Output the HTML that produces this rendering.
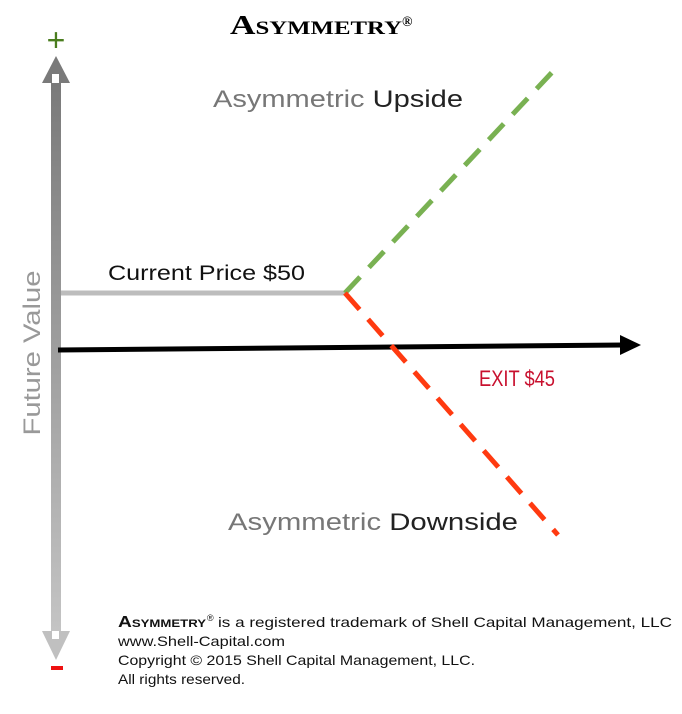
<!DOCTYPE html>
<html><head><style>
body{margin:0;background:#fff;}
svg{display:block;}
text{font-family:"Liberation Sans",sans-serif;}
</style></head><body>
<svg width="682" height="714" viewBox="0 0 682 714">
<defs>
<linearGradient id="g" x1="0" y1="0" x2="0" y2="1">
<stop offset="0" stop-color="#7a7a7a"/><stop offset="1" stop-color="#c4c4c4"/>
</linearGradient>
</defs>
<text x="230" y="34" textLength="172" lengthAdjust="spacingAndGlyphs" style="font-family:'Liberation Serif',serif;font-weight:bold;font-size:27px;font-variant:small-caps">Asymmetry</text>
<text x="402" y="26" font-size="14" style="font-family:'Liberation Serif',serif;font-weight:bold">®</text>
<text x="56" y="51" text-anchor="middle" fill="#4a7d1e" font-size="32">+</text>
<rect x="51" y="666" width="12" height="4" fill="#ee1111"/>
<rect x="51" y="82" width="10" height="550" fill="url(#g)"/>
<polygon points="56,56 42,83 70,83" fill="#7a7a7a"/>
<rect x="52" y="74" width="7" height="9" fill="#fff"/>
<polygon points="56,660 42,631 70,631" fill="#c0c0c0"/>
<rect x="52" y="631" width="7" height="8" fill="#fff"/>
<text transform="translate(40,353) rotate(-90)" text-anchor="middle" fill="#999" font-size="24" textLength="165" lengthAdjust="spacingAndGlyphs">Future Value</text>
<line x1="61" y1="293" x2="345" y2="293" stroke="#bdbdbd" stroke-width="5"/>
<line x1="58" y1="350" x2="624" y2="345" stroke="#000" stroke-width="5"/>
<polygon points="641,345 620,335 620,355" fill="#000"/>
<line x1="345" y1="293" x2="558" y2="66" stroke="#79b152" stroke-width="5" stroke-dasharray="22,13"/>
<line x1="345" y1="293" x2="558" y2="535" stroke="#ff3a10" stroke-width="5" stroke-dasharray="22,13"/>
<text x="213" y="107" font-size="24" fill="#777" textLength="250" lengthAdjust="spacingAndGlyphs">Asymmetric <tspan fill="#222">Upside</tspan></text>
<text x="108" y="280" font-size="21" fill="#111" textLength="197" lengthAdjust="spacingAndGlyphs">Current Price $50</text>
<text x="479" y="386" font-size="22" fill="#c8102e" textLength="76" lengthAdjust="spacingAndGlyphs">EXIT $45</text>
<text x="228" y="530" font-size="24" fill="#777" textLength="290" lengthAdjust="spacingAndGlyphs">Asymmetric <tspan fill="#222">Downside</tspan></text>
<g font-size="14" fill="#111">
<text x="118" y="627" font-weight="bold" font-variant="small-caps" font-size="16" textLength="88" lengthAdjust="spacingAndGlyphs">Asymmetry</text>
<text x="207" y="621" font-size="9">®</text>
<text x="218" y="627" textLength="454" lengthAdjust="spacingAndGlyphs">is a registered trademark of Shell Capital Management, LLC</text>
<text x="118" y="646" textLength="167" lengthAdjust="spacingAndGlyphs">www.Shell-Capital.com</text>
<text x="118" y="665" textLength="357" lengthAdjust="spacingAndGlyphs">Copyright © 2015 Shell Capital Management, LLC.</text>
<text x="118" y="684" textLength="127" lengthAdjust="spacingAndGlyphs">All rights reserved.</text>
</g>
</svg>
</body></html>
